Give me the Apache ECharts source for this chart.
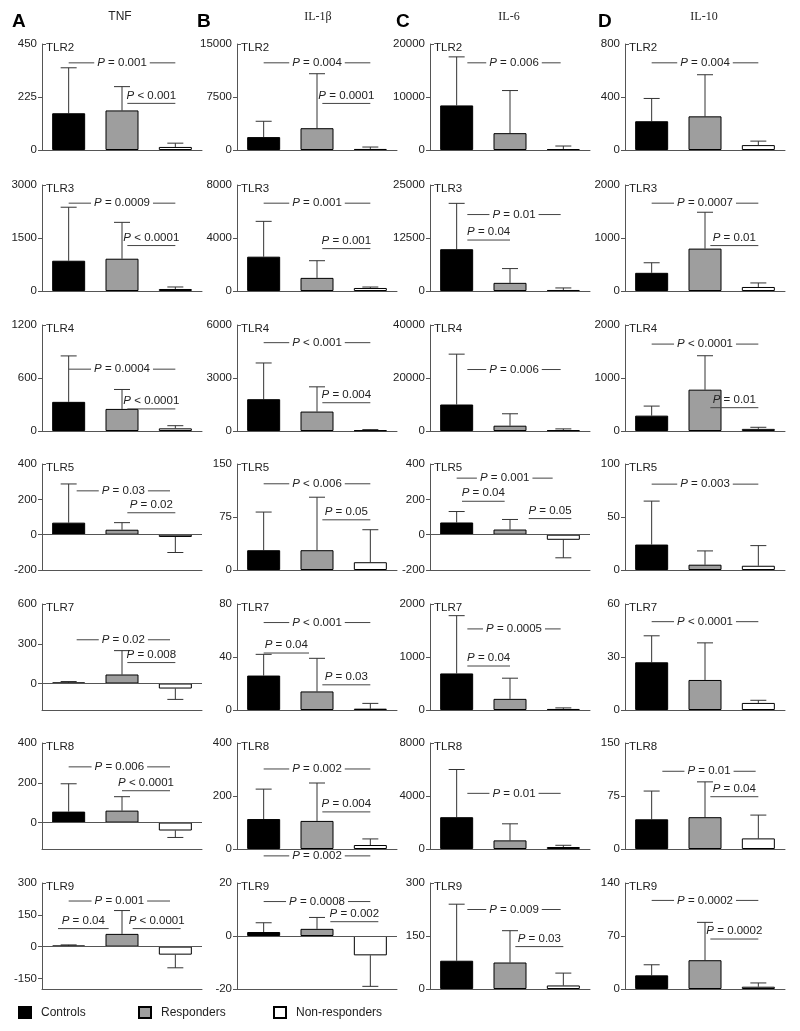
<!DOCTYPE html>
<html><head><meta charset="utf-8">
<script src="https://cdn.jsdelivr.net/npm/echarts@6/dist/echarts.min.js"></script>
<style>html,body{margin:0;padding:0;background:#fff}#c{width:800px;height:1031px}</style>
</head><body><div id="c"></div>
<script>
const letters = ['A','B','C','D'];
const cytokines = ['TNF','IL-1β','IL-6','IL-10'];
const receptors = ['TLR2','TLR3','TLR4','TLR5','TLR7','TLR8','TLR9'];
const groups = ['Controls','Responders','Non-responders'];

// means per receptor row: [Controls, Responders, Non-responders]
const tnfMean = [[156,168,13],[857,914,57],[330,250,30],[68,28,-13],[8,68,-38],[55,60,-40],[5,60,-38]];
const tnfSD   = [[193,101,16],[1514,1029,57],[520,220,30],[219,40,88],[7,180,82],[140,70,35],[3,110,62]];
const il1Mean = [[1822,3084,150],[2590,990,228],[1800,1100,40],[28,28,11],[26,14,1],[113,106,15],[1.5,2.7,-7.3]];
const il1SD   = [[2243,7710,270],[2667,1296,72],[2050,1400,40],[54,75,46],[16,25,4],[113,143,23],[3.5,4.3,11.7]];
const il6Mean = [[8411,3178,187],[9856,1923,240],[10000,2000,300],[69,29,-29],[690,210,20],[2400,650,150],[80,75,10]];
const il6SD   = [[9159,8037,563],[10817,3365,481],[19000,4500,500],[62,57,102],[1090,390,20],[3600,1250,130],[160,90,35]];
const il10Mean= [[217,254,37],[343,800,76],[290,780,40],[24,5,4],[27,17,4],[42,45,15],[18,38,3]];
const il10SD  = [[172,314,30],[190,686,76],[180,640,30],[41,13,19],[15,21,1.5],[40,50,33],[14,50,5]];

// axis ranges [min, max] and tick labels
const tnfRange = [[0,450],[0,3000],[0,1200],[-200,400],[-200,600],[-133,400],[-200,300]];
const tnfTicks = [[0,225,450],[0,1500,3000],[0,600,1200],[-200,0,200,400],[0,300,600],[0,200,400],[-150,0,150,300]];
const il1Range = [[0,15000],[0,8000],[0,6000],[0,150],[0,80],[0,400],[-20,20]];
const il1Ticks = [[0,7500,15000],[0,4000,8000],[0,3000,6000],[0,75,150],[0,40,80],[0,200,400],[-20,0,20]];
const il6Range = [[0,20000],[0,25000],[0,40000],[-200,400],[0,2000],[0,8000],[0,300]];
const il6Ticks = [[0,10000,20000],[0,12500,25000],[0,20000,40000],[-200,0,200,400],[0,1000,2000],[0,4000,8000],[0,150,300]];
const il10Range= [[0,800],[0,2000],[0,2000],[0,100],[0,60],[0,150],[0,140]];
const il10Ticks= [[0,400,800],[0,1000,2000],[0,1000,2000],[0,50,100],[0,30,60],[0,75,150],[0,70,140]];

// P-value brackets: [from category, to category, y value, text, style]
const tnfP = [
 [[0,2,370,'= 0.001','mid'],[1.1,2,198,'< 0.001','under']],
 [[0,2,2486,'= 0.0009','mid'],[1.1,2,1286,'< 0.0001','under']],
 [[0,2,700,'= 0.0004','mid'],[1.1,2,250,'< 0.0001','under']],
 [[0.15,1.9,248,'= 0.03','mid'],[1.1,2,124,'= 0.02','under']],
 [[0.15,1.9,330,'= 0.02','mid'],[1.1,2,158,'= 0.008','under']],
 [[0,1.9,280,'= 0.006','mid'],[1,1.9,160,'< 0.0001','under']],
 [[0,1.9,215,'= 0.001','mid'],[-0.2,0.75,85,'= 0.04','under'],[1.2,2.1,85,'< 0.0001','under']]
];
const il1P = [
 [[0,2,12336,'= 0.004','mid'],[1.1,2,6590,'= 0.0001','under']],
 [[0,2,6628,'= 0.001','mid'],[1.1,2,3200,'= 0.001','under']],
 [[0,2,5000,'< 0.001','mid'],[1.1,2,1600,'= 0.004','under']],
 [[0,2,122,'< 0.006','mid'],[1.1,2,71,'= 0.05','under']],
 [[0,2,66,'< 0.001','mid'],[0,0.85,43,'= 0.04','under'],[1.1,2,19,'= 0.03','under']],
 [[0,2,302,'= 0.002','mid'],[1.1,2,140,'= 0.004','under'],[0,2,-26,'= 0.002','mid']],
 [[0,2,13,'= 0.0008','mid'],[1.25,2.15,5.4,'= 0.002','under']]
];
const il6P = [
 [[0.2,1.95,16450,'= 0.006','mid']],
 [[0.2,1.95,18029,'= 0.01','mid'],[0.2,1,12019,'= 0.04','under']],
 [[0.2,1.95,23200,'= 0.006','mid']],
 [[0,1.8,320,'= 0.001','mid'],[0.1,0.9,189,'= 0.04','under'],[1.35,2.15,91,'= 0.05','under']],
 [[0.2,1.95,1530,'= 0.0005','mid'],[0.2,1,830,'= 0.04','under']],
 [[0.2,1.95,4200,'= 0.01','mid']],
 [[0.2,1.95,225,'= 0.009','mid'],[1.1,2,120,'= 0.03','under']]
];
const il10P = [
 [[0,2,658,'= 0.004','mid']],
 [[0,2,1657,'= 0.0007','mid'],[1.1,2,857,'= 0.01','under']],
 [[0,2,1640,'< 0.0001','mid'],[1.1,2,440,'= 0.01','under']],
 [[0,2,81,'= 0.003','mid']],
 [[0,2,50,'< 0.0001','mid']],
 [[0.2,1.95,110,'= 0.01','mid'],[1.1,2,74,'= 0.04','under']],
 [[0,2,117,'= 0.0002','mid'],[1.1,2,66,'= 0.0002','under']]
];

const cols = [
 {mean:tnfMean, sd:tnfSD, range:tnfRange, ticks:tnfTicks, p:tnfP},
 {mean:il1Mean, sd:il1SD, range:il1Range, ticks:il1Ticks, p:il1P},
 {mean:il6Mean, sd:il6SD, range:il6Range, ticks:il6Ticks, p:il6P},
 {mean:il10Mean, sd:il10SD, range:il10Range, ticks:il10Ticks, p:il10P}
];

// layout
const colLeft = [42,237,430,625];
const rowTop = [44,185,325,464,604,743,883];
const gridW = 160, gridH = 106;
const FONT = 'Liberation Sans';
const fills = ['#000000','#9e9e9e','#ffffff'];
const axisColor = '#555';

const grid=[], xAxis=[], yAxis=[], series=[], graphic=[];
let k = 0;
cols.forEach((col, c) => {
  receptors.forEach((rec, r) => {
    const [mn, mx] = col.range[r];
    grid.push({left: colLeft[c], top: rowTop[r], width: gridW, height: gridH, containLabel:false});
    xAxis.push({type:'category', gridIndex:k, data:groups, boundaryGap:true,
      axisLine:{show:true, onZero:false, lineStyle:{color:axisColor, width:1}},
      axisTick:{show:false}, axisLabel:{show:false}, splitLine:{show:false}});
    yAxis.push({type:'value', gridIndex:k, min:mn, max:mx,
      axisLine:{show:true, lineStyle:{color:axisColor, width:1}},
      axisTick:{show:true, length:4, customValues:col.ticks[r].filter(v=>v!==mx), lineStyle:{color:axisColor}},
      axisLabel:{show:true, customValues:col.ticks[r], formatter:v=>String(v), fontFamily:FONT, fontSize:11.5, color:'#222', margin:5},
      splitLine:{show:false}});
    groups.forEach((g, gi) => {
      const d = [null,null,null]; d[gi] = col.mean[r][gi];
      const s = {type:'bar', name:g, xAxisIndex:k, yAxisIndex:k, data:d.map(v=>v===null?'-':v),
        barWidth:33, barGap:'-100%', silent:true,
        itemStyle:{color:fills[gi], borderColor:'#000', borderWidth:1}};
      if (gi===0 && mn<0) {
        s.markLine = {silent:true, symbol:'none', label:{show:false}, animation:false,
          lineStyle:{color:axisColor, type:'solid', width:1}, data:[{yAxis:0}]};
      }
      series.push(s);
    });
    // error bars
    const eb = col.mean[r].map((m,gi)=>{ const s = col.sd[r][gi]; return [gi, m, m>=0 ? m+s : m-s]; });
    series.push({type:'custom', xAxisIndex:k, yAxisIndex:k, silent:true, data:eb, z:1,
      renderItem:(params, api)=>{
        const x = api.value(0);
        const p0 = api.coord([x, api.value(1)]), p1 = api.coord([x, api.value(2)]);
        const st = {stroke:'#333', lineWidth:1};
        return {type:'group', children:[
          {type:'line', shape:{x1:p0[0],y1:p0[1],x2:p1[0],y2:p1[1]}, style:st},
          {type:'line', shape:{x1:p1[0]-8,y1:p1[1],x2:p1[0]+8,y2:p1[1]}, style:st}
        ]};
      }});
    // p-value annotations
    const ann = col.p[r];
    series.push({type:'custom', xAxisIndex:k, yAxisIndex:k, silent:true, z:6, clip:false,
      data: ann.map(a=>[0, a[2]]),
      renderItem:(params, api)=>{
        const a = ann[params.dataIndex];
        const c0 = api.coord([0, api.value(1)]), c1 = api.coord([1, api.value(1)]);
        const step = c1[0]-c0[0];
        const xa = c0[0] + a[0]*step, xb = c0[0] + a[1]*step, y = c0[1];
        const txt = '{i|P} ' + a[3];
        const rich = {i:{fontStyle:'italic', fontFamily:FONT, fontSize:11.5, fill:'#222'}};
        const ln = {type:'line', shape:{x1:xa,y1:y,x2:xb,y2:y}, style:{stroke:'#444', lineWidth:1}};
        if (a[4]==='mid') {
          return {type:'group', children:[ln,
            {type:'text', x:(xa+xb)/2, y:y, style:{text:txt, rich:rich, fontFamily:FONT, fontSize:11.5, fill:'#222',
              align:'center', verticalAlign:'middle', backgroundColor:'#fff', padding:[0,3]}}]};
        }
        return {type:'group', children:[ln,
          {type:'text', x:(xa+xb)/2, y:y-2, style:{text:txt, rich:rich, fontFamily:FONT, fontSize:11.5, fill:'#222',
            align:'center', verticalAlign:'bottom'}}]};
      }});
    graphic.push({type:'text', left: colLeft[c]+4, top: rowTop[r]-2,
      style:{text:rec, fontFamily:FONT, fontSize:11.5, fill:'#222'}});
    // inward cap at the top of the y axis
    graphic.push({type:'line', shape:{x1:colLeft[c], y1:rowTop[r]+0.5, x2:colLeft[c]+4, y2:rowTop[r]+0.5},
      style:{stroke:axisColor, lineWidth:1}});
    k++;
  });
});

const headerLetterX = [12,197,396,598];
const headerTitleX = [120,318,509,704];
cols.forEach((col,c)=>{
  graphic.push({type:'text', left:headerLetterX[c], top:12, style:{text:letters[c], fontFamily:FONT, fontWeight:'bold', fontSize:19, fill:'#000'}});
  graphic.push({type:'text', x:headerTitleX[c], y:17, style:{text:cytokines[c], fontFamily: c===0?FONT:'Liberation Serif', fontSize:12, fill:'#222', align:'center', verticalAlign:'middle'}});
});

const legendLeft = [18,138,273];
const legend = groups.map((g,i)=>({data:[g], left:legendLeft[i], top:1006, padding:0, icon:'rect', itemWidth:12, itemHeight:11,
  selectedMode:false, textStyle:{fontFamily:FONT, fontSize:12, color:'#222', padding:[0,0,0,5]}}));

const chart = echarts.init(document.getElementById('c'), null, {renderer:'canvas'});
chart.setOption({animation:false, backgroundColor:'#fff', grid, xAxis, yAxis, series, legend, graphic});
</script>
</body></html>
